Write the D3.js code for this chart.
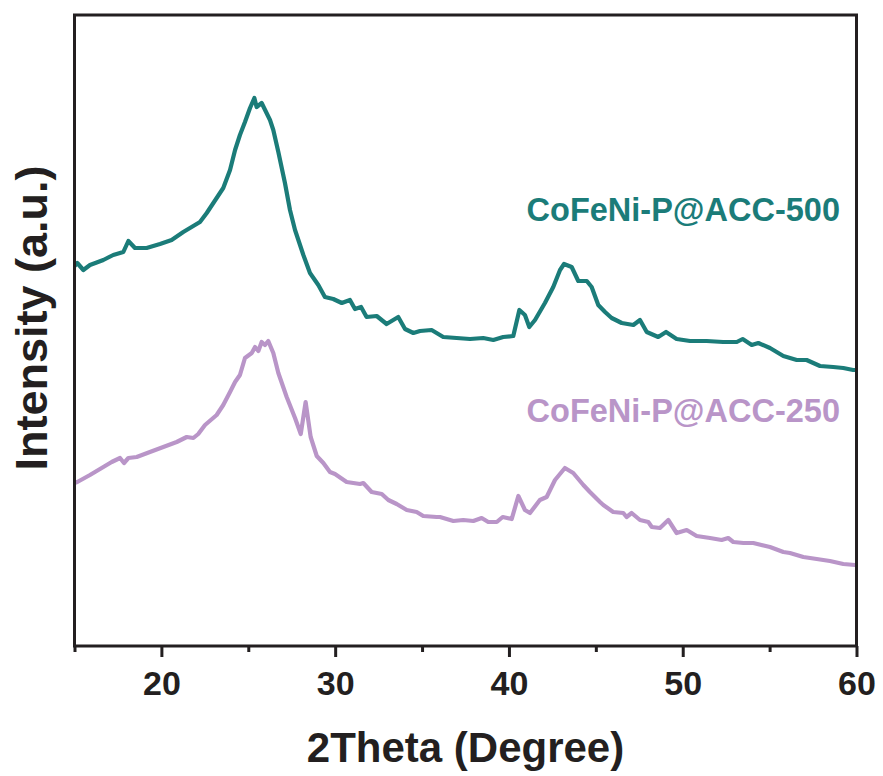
<!DOCTYPE html>
<html>
<head>
<meta charset="utf-8">
<script src="https://cdn.jsdelivr.net/npm/d3@7"></script>
<style>
  body { margin: 0; background: #fff; }
  text { font-family: "Liberation Sans", Arial, sans-serif; font-weight: bold; fill: #231f20; }
</style>
</head>
<body>
<script>
// 2theta (deg) and intensity (a.u.)
const theta500 = [15.0,15.16,15.51,15.89,16.66,17.23,17.81,18.10,18.48,19.15,19.92,20.59,21.26,21.74,22.22,22.61,22.99,23.56,23.95,24.24,24.52,24.81,25.10,25.35,25.48,25.77,26.25,26.44,26.73,27.11,27.40,27.69,28.17,28.55,29.03,29.41,29.89,30.38,30.85,31.14,31.49,31.81,32.39,32.96,33.63,34.02,34.50,34.88,35.55,36.22,36.99,37.76,38.52,39.10,39.67,40.25,40.60,40.92,41.17,41.50,42.07,42.55,42.94,43.17,43.61,43.99,44.48,44.76,45.14,45.53,45.91,46.49,47.16,47.54,47.93,48.59,49.04,49.65,50.42,51.38,52.33,53.11,53.45,53.97,54.35,55.02,55.79,56.56,57.13,57.90,58.66,59.24,59.81,60.0];
const int500 = [380,383,376,381,386,391,394,405,398,398,402,406,414,419,424,433,443,458,476,496,511,524,538,548,539,543,526,516,494,463,436,416,391,373,361,349,347,343,346,337,339,329,330,322,329,317,313,315,316,309,308,307,308,306,309,310,336,331,319,326,343,359,376,382,379,365,365,359,341,334,328,323,321,326,314,309,314,307,305,305,304,304,307,301,303,298,290,286,286,280,279,278,276,276];

const theta250 = [15.0,15.16,15.89,16.66,17.14,17.62,17.85,18.10,18.58,19.34,20.11,20.88,21.46,21.84,22.12,22.51,23.18,23.56,23.95,24.24,24.52,24.81,25.20,25.39,25.58,25.77,25.96,26.15,26.44,26.73,27.21,27.69,28.02,28.30,28.59,28.94,29.32,29.70,29.99,30.66,31.43,31.62,32.10,32.68,33.06,33.54,34.12,34.69,35.07,35.84,36.03,36.80,37.37,37.95,38.43,38.81,39.30,39.64,40.16,40.54,40.92,41.21,41.78,42.17,42.65,43.22,43.70,44.28,44.66,45.24,45.43,46.00,46.58,46.77,47.06,47.54,48.02,48.22,48.69,49.17,49.65,50.23,50.80,51.57,52.24,52.62,52.91,53.49,54.06,55.02,55.79,56.17,56.94,57.71,58.47,59.24,59.91,60.0];
const int250 = [163,164,171,179,184,188,183,188,189,194,199,204,209,208,212,221,231,241,254,264,271,288,293,299,295,304,301,305,293,273,249,228,212,244,209,190,183,174,172,164,162,163,154,152,146,142,136,134,130,129,129,125,126,125,128,124,124,129,127,150,136,133,146,149,166,178,173,161,154,144,141,134,133,129,133,126,124,119,118,126,113,116,110,108,106,108,104,103,103,99,94,93,89,87,85,82,81,81];

const seriesNames = ['CoFeNi-P@ACC-500', 'CoFeNi-P@ACC-250'];
const seriesColors = ['#1b7c79', '#b995c8'];
const majorTicks = [20, 30, 40, 50, 60];
const minorTicks = [15, 25, 35, 45, 55];

const width = 883;
const height = 776;
const margin = { top: 15, right: 26.5, bottom: 130, left: 74.5 };

const svg = d3.select('body').append('svg')
  .attr('width', width)
  .attr('height', height);

const xScale = d3.scaleLinear().domain([15, 60]).range([margin.left, width - margin.right]);
const yScale = d3.scaleLinear().domain([0, 631]).range([height - margin.bottom, margin.top]);

const toPoints = (xs, ys) => xs.map((x, i) => [x, ys[i]]);
const series = [toPoints(theta500, int500), toPoints(theta250, int250)];

const line = d3.line()
  .x(d => xScale(d[0]))
  .y(d => yScale(d[1]));

svg.selectAll('path.trace').data(series)
  .enter().append('path')
  .attr('class', 'trace')
  .attr('d', line)
  .attr('fill', 'none')
  .attr('stroke', (d, i) => seriesColors[i])
  .attr('stroke-width', 4.2)
  .attr('stroke-linejoin', 'round');

// frame
svg.append('rect')
  .attr('x', xScale(15))
  .attr('y', yScale(631))
  .attr('width', xScale(60) - xScale(15))
  .attr('height', yScale(0) - yScale(631))
  .attr('fill', 'none')
  .attr('stroke', '#231f20')
  .attr('stroke-width', 3);

const xAxis = svg.append('g')
  .attr('transform', `translate(0, ${yScale(0)})`)
  .call(d3.axisBottom(xScale).tickValues(majorTicks).tickSize(11).tickPadding(14).tickSizeOuter(0).tickFormat(d3.format('d')));
xAxis.select('.domain').remove();
xAxis.selectAll('line').attr('stroke', '#231f20').attr('stroke-width', 3);
xAxis.selectAll('text').attr('font-size', 34).attr('fill', '#231f20')
  .attr('font-family', '"Liberation Sans", Arial, sans-serif').attr('font-weight', 'bold');

const xMinor = svg.append('g')
  .attr('transform', `translate(0, ${yScale(0)})`)
  .call(d3.axisBottom(xScale).tickValues(minorTicks).tickSize(6).tickSizeOuter(0).tickFormat(''));
xMinor.select('.domain').remove();
xMinor.selectAll('line').attr('stroke', '#231f20').attr('stroke-width', 3);

svg.append('text')
  .attr('x', (xScale(15) + xScale(60)) / 2)
  .attr('y', 762)
  .attr('text-anchor', 'middle')
  .attr('font-size', 42)
  .text('2Theta (Degree)');

svg.append('text')
  .attr('transform', 'translate(47, 318) rotate(-90)')
  .attr('text-anchor', 'middle')
  .attr('font-size', 45)
  .text('Intensity (a.u.)');

const labelY = [221, 422];
svg.selectAll('text.series-label').data(seriesNames)
  .enter().append('text')
  .attr('class', 'series-label')
  .attr('x', 840)
  .attr('y', (d, i) => labelY[i])
  .attr('text-anchor', 'end')
  .attr('font-size', 32.5)
  .style('fill', (d, i) => seriesColors[i])
  .text(d => d);
</script>
</body>
</html>
